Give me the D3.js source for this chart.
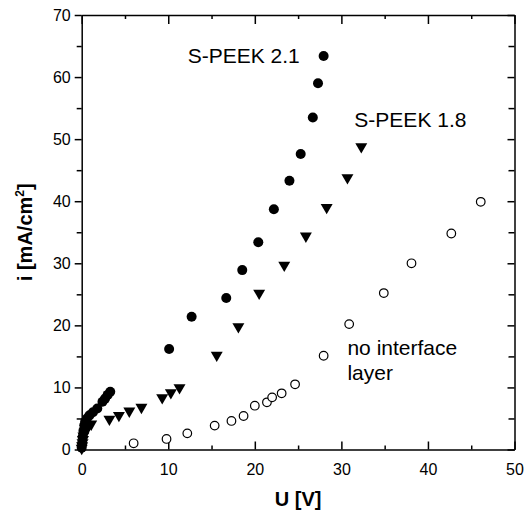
<!DOCTYPE html>
<html><head><meta charset="utf-8">
<script src="https://cdn.jsdelivr.net/npm/d3@7"></script>
<style>body{margin:0;background:#fff}svg{display:block}text{font-family:"Liberation Sans",Arial,sans-serif}</style>
</head><body><svg id="c" width="525" height="514"></svg>
<script>
// S-PEEK 2.1 (filled circles)
const speek21U = [0,0.05,0.1,0.2,0.3,0.4,0.6,0.9,1.3,1.8,2.4,2.7,3.0,3.3,10.1,12.7,16.7,18.55,20.4,22.2,24.0,25.3,26.7,27.3,27.95];
const speek21I = [0.3,1.0,2.0,3.0,3.9,4.5,5.0,5.5,6.0,6.6,7.7,8.2,8.8,9.3,16.2,21.4,24.4,28.9,33.4,38.7,43.3,47.6,53.5,59.0,63.4];
// S-PEEK 1.8 (down triangles)
const speek18U = [0,0.05,0.1,0.15,0.2,0.35,0.6,1.1,3.2,4.3,5.5,6.9,9.3,10.3,11.3,15.6,18.1,20.5,23.4,25.9,28.3,30.7,32.3];
const speek18I = [0.2,0.6,1.1,1.6,2.2,2.8,3.3,4.1,4.9,5.5,6.2,6.8,8.35,9.15,9.96,15.2,19.8,25.2,29.7,34.4,39.0,43.8,48.8];
// no interface layer (open circles)
const noLayerU = [6.0,9.8,12.2,15.36,17.3,18.7,20.0,21.4,22.0,23.1,24.65,27.95,30.9,34.9,38.1,42.7,46.1];
const noLayerI = [1.0,1.7,2.6,3.85,4.6,5.4,7.06,7.6,8.4,9.05,10.5,15.1,20.2,25.2,30.0,34.8,39.9];
const xMajor = [0,10,20,30,40,50];
const xMinor = [5,15,25,35,45];
const yMajor = [0,10,20,30,40,50,60,70];
const yMinor = [5,15,25,35,45,55,65];
const xTitle = "U [V]";
const labels = [
  {text:"S-PEEK 2.1", u:12.25, i:62.3},
  {text:"S-PEEK 1.8", u:31.5, i:52.0},
  {text:"no interface", u:30.7, i:15.3},
  {text:"layer", u:30.7, i:11.2}
];

const svg = d3.select("#c");
const L=81.7, R=514.5, T=15, B=449.5;
const x = d3.scaleLinear().domain([0,50]).range([L,R]);
const y = d3.scaleLinear().domain([0,70]).range([B,T]);

function styleAxis(g){ g.select(".domain").attr("stroke","#000").attr("stroke-width",1.5);
  g.selectAll(".tick line").attr("stroke","#000").attr("stroke-width",1.5); }

// bottom
svg.append("g").attr("transform",`translate(0,${B})`)
  .call(d3.axisBottom(x).tickValues(xMajor).tickSizeInner(-8).tickSizeOuter(0).tickPadding(14).tickFormat(d3.format("d")))
  .call(styleAxis).call(g=>g.selectAll("text").attr("font-size",16).attr("fill","#000"));
svg.append("g").attr("transform",`translate(0,${B})`)
  .call(d3.axisBottom(x).tickValues(xMinor).tickSizeInner(-4).tickSizeOuter(0).tickFormat(""))
  .call(styleAxis).call(g=>g.select(".domain").remove());
// top
svg.append("g").attr("transform",`translate(0,${T})`)
  .call(d3.axisTop(x).tickValues(xMajor).tickSizeInner(-9).tickSizeOuter(0).tickFormat(""))
  .call(styleAxis);
svg.append("g").attr("transform",`translate(0,${T})`)
  .call(d3.axisTop(x).tickValues(xMinor).tickSizeInner(-4).tickSizeOuter(0).tickFormat(""))
  .call(styleAxis).call(g=>g.select(".domain").remove());
// left
svg.append("g").attr("transform",`translate(${L},0)`)
  .call(d3.axisLeft(y).tickValues(yMajor).tickSizeInner(7).tickSizeOuter(0).tickPadding(4).tickFormat(d3.format("d")))
  .call(styleAxis).call(g=>g.selectAll("text").attr("font-size",16).attr("fill","#000"));
svg.append("g").attr("transform",`translate(${L},0)`)
  .call(d3.axisLeft(y).tickValues(yMinor).tickSizeInner(5).tickSizeOuter(0).tickFormat(""))
  .call(styleAxis).call(g=>g.select(".domain").remove());
// right
svg.append("g").attr("transform",`translate(${R},0)`)
  .call(d3.axisRight(y).tickValues(yMajor).tickSizeInner(-7).tickSizeOuter(0).tickFormat(""))
  .call(styleAxis);
svg.append("g").attr("transform",`translate(${R},0)`)
  .call(d3.axisRight(y).tickValues(yMinor).tickSizeInner(-6).tickSizeOuter(0).tickFormat(""))
  .call(styleAxis).call(g=>g.select(".domain").remove());

// titles
svg.append("text").attr("x",(L+R)/2).attr("y",506).attr("text-anchor","middle")
  .attr("font-size",20).attr("font-weight","bold").text(xTitle);
const yt = svg.append("text").attr("transform",`translate(32,${(T+B)/2}) rotate(-90)`)
  .attr("text-anchor","middle").attr("font-size",20).attr("font-weight","bold");
yt.append("tspan").text("i [mA/cm");
yt.append("tspan").attr("font-size",12).attr("dy",-8).text("2");
yt.append("tspan").attr("dy",8).text("]");

// data
const noLayer = noLayerU.map((u,k)=>[u,noLayerI[k]]);
const s18 = speek18U.map((u,k)=>[u,speek18I[k]]);
const s21 = speek21U.map((u,k)=>[u,speek21I[k]]);
svg.append("g").selectAll("circle").data(noLayer).join("circle")
  .attr("cx",d=>x(d[0])).attr("cy",d=>y(d[1])).attr("r",4.3)
  .attr("fill","#fff").attr("stroke","#000").attr("stroke-width",1.2);
const tri = d3.symbol().type(d3.symbolTriangle).size(62);
svg.append("g").selectAll("path").data(s18).join("path")
  .attr("d",tri).attr("transform",d=>`translate(${x(d[0])},${y(d[1])}) rotate(180)`).attr("fill","#000");
svg.append("g").selectAll("circle").data(s21).join("circle")
  .attr("cx",d=>x(d[0])).attr("cy",d=>y(d[1])).attr("r",5).attr("fill","#000");

svg.append("g").selectAll("text").data(labels).join("text")
  .attr("x",d=>x(d.u)).attr("y",d=>y(d.i)).attr("font-size",21).attr("fill","#000").text(d=>d.text);
</script></body></html>
